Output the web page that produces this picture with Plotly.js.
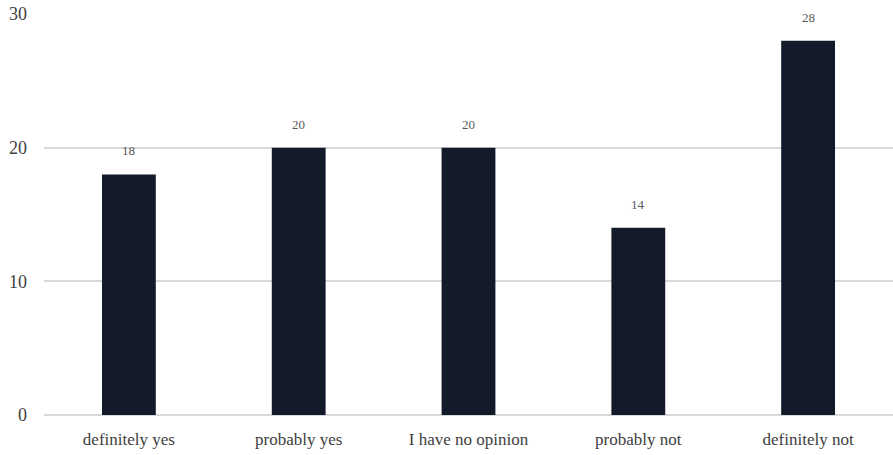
<!DOCTYPE html>
<html>
<head>
<meta charset="utf-8">
<script src="https://cdn.plot.ly/plotly-3.0.1.min.js"></script>
<style>html,body{margin:0;padding:0;background:#fff;}#chart{width:893px;height:455px;}</style>
</head>
<body>
<div id="chart"></div>
<script>
const categories = ["definitely yes", "probably yes", "I have no opinion", "probably not", "definitely not"];
const values = [18, 20, 20, 14, 28];
const yTicks = [0, 10, 20, 30];

const fontFam = "'Liberation Serif', 'DejaVu Serif', serif";

const trace = {
  type: "bar",
  x: categories,
  y: values,
  marker: {color: "#131a2a"},
  hoverinfo: "skip"
};

const annotations = categories.map((c, i) => ({
  x: c, y: values[i], xref: "x", yref: "y",
  text: String(values[i]), showarrow: false,
  yanchor: "bottom", yshift: 14,
  font: {family: fontFam, size: 13, color: "#595959"}
}));

const layout = {
  width: 893, height: 455,
  margin: {l: 44, r: 0, t: 14, b: 40},
  paper_bgcolor: "#fff", plot_bgcolor: "#fff",
  bargap: 0.683,
  showlegend: false,
  font: {family: fontFam, color: "#404040", size: 16},
  xaxis: {
    type: "category",
    showgrid: false, zeroline: false, showline: false,
    ticks: "", tickfont: {family: fontFam, size: 17, color: "#404040"},
    ticklabelstandoff: 12
  },
  yaxis: {
    range: [0, 30], tickvals: yTicks, ticktext: yTicks.map(String),
    showgrid: true, gridcolor: "#d9d9d9", gridwidth: 2,
    zeroline: true, zerolinecolor: "#d9d9d9", zerolinewidth: 2,
    showline: false, ticks: "",
    tickfont: {family: fontFam, size: 18, color: "#404040"},
    ticklabelstandoff: 16
  },
  annotations: annotations
};

Plotly.newPlot("chart", [trace], layout, {displayModeBar: false, staticPlot: true});
</script>
</body>
</html>
